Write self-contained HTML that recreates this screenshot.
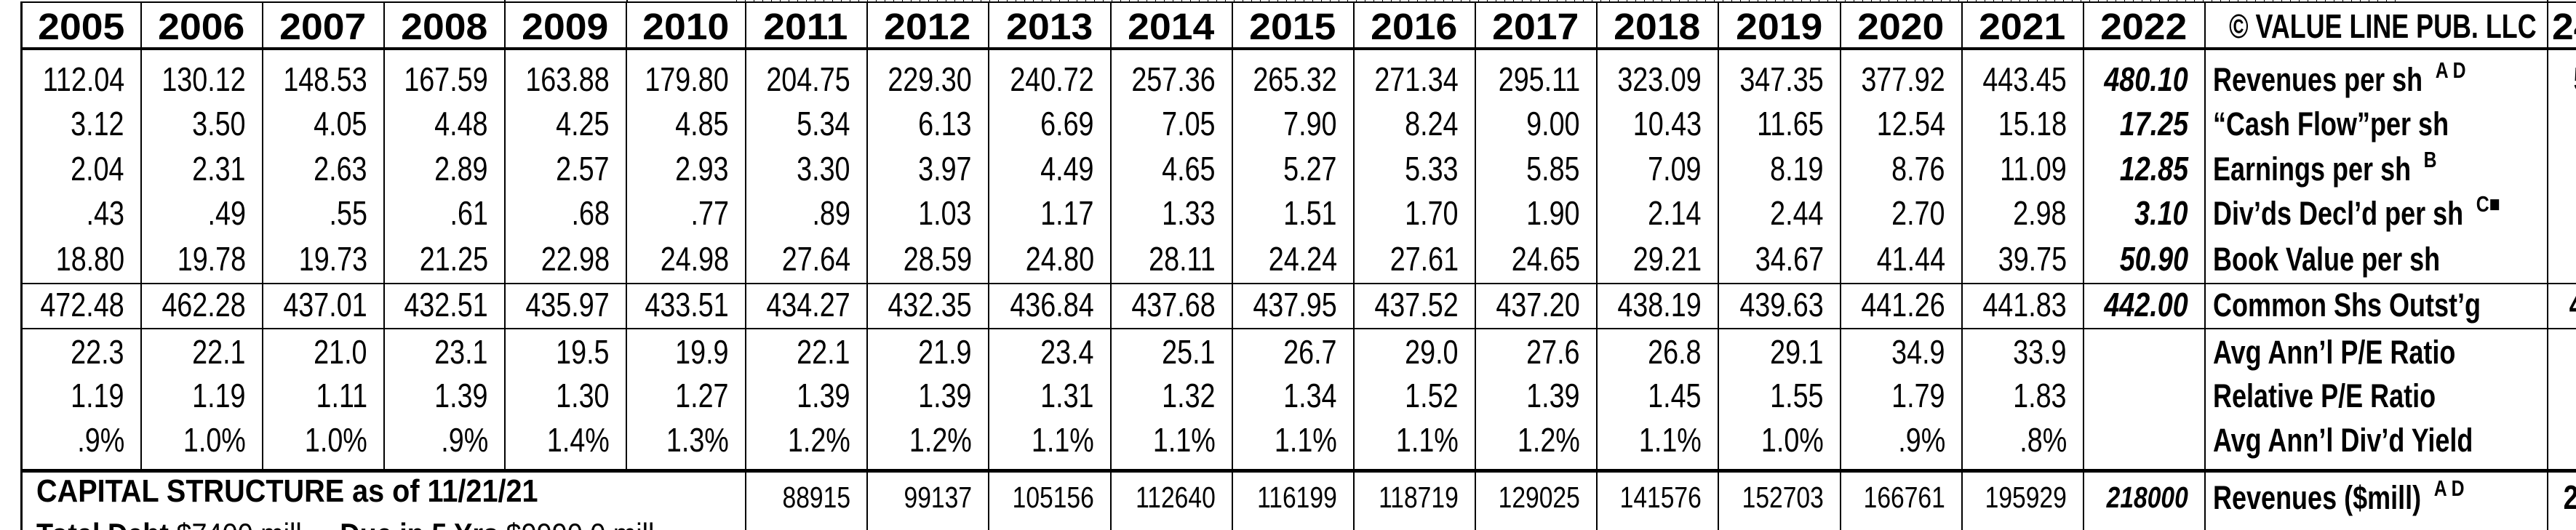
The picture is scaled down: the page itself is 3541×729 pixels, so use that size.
<!DOCTYPE html>
<html><head><meta charset="utf-8">
<style>
html,body{margin:0;padding:0;background:#fff;}
#root{position:relative;width:3541px;height:729px;overflow:hidden;background:#fff;font-family:"Liberation Sans",Arial,sans-serif;color:#000;}
.ln{position:absolute;background:#000;}
.t{position:absolute;white-space:nowrap;line-height:1;}
.num{font-size:46px;transform:scaleX(0.82);transform-origin:right center;}
.hdr{font-size:51px;font-weight:bold;transform:scaleX(1.05);transform-origin:center center;}
.lbl{font-size:45px;font-weight:bold;transform:scaleX(0.8);transform-origin:left center;}
.sup{font-size:31px;vertical-align:top;position:relative;top:-6px;margin-left:22px;}
</style></head>
<body>
<div id="root"></div>
<script>
const years=["2005","2006","2007","2008","2009","2010","2011","2012","2013","2014","2015","2016","2017","2018","2019","2020","2021","2022"];
const revPerSh=["112.04","130.12","148.53","167.59","163.88","179.80","204.75","229.30","240.72","257.36","265.32","271.34","295.11","323.09","347.35","377.92","443.45","480.10"];
const cashFlow=["3.12","3.50","4.05","4.48","4.25","4.85","5.34","6.13","6.69","7.05","7.90","8.24","9.00","10.43","11.65","12.54","15.18","17.25"];
const earnings=["2.04","2.31","2.63","2.89","2.57","2.93","3.30","3.97","4.49","4.65","5.27","5.33","5.85","7.09","8.19","8.76","11.09","12.85"];
const divs=[".43",".49",".55",".61",".68",".77",".89","1.03","1.17","1.33","1.51","1.70","1.90","2.14","2.44","2.70","2.98","3.10"];
const bookVal=["18.80","19.78","19.73","21.25","22.98","24.98","27.64","28.59","24.80","28.11","24.24","27.61","24.65","29.21","34.67","41.44","39.75","50.90"];
const shares=["472.48","462.28","437.01","432.51","435.97","433.51","434.27","432.35","436.84","437.68","437.95","437.52","437.20","438.19","439.63","441.26","441.83","442.00"];
const peRatio=["22.3","22.1","21.0","23.1","19.5","19.9","22.1","21.9","23.4","25.1","26.7","29.0","27.6","26.8","29.1","34.9","33.9",""];
const relPE=["1.19","1.19","1.11","1.39","1.30","1.27","1.39","1.39","1.31","1.32","1.34","1.52","1.39","1.45","1.55","1.79","1.83",""];
const divYield=[".9%","1.0%","1.0%",".9%","1.4%","1.3%","1.2%","1.2%","1.1%","1.1%","1.1%","1.1%","1.2%","1.1%","1.0%",".9%",".8%",""];
const revMill=["","","","","","","88915","99137","105156","112640","116199","118719","129025","141576","152703","166761","195929","218000"];
const rows=[revPerSh,cashFlow,earnings,divs,bookVal,shares,peRatio,relPE,divYield,revMill];
const rowNames=["revenues-per-sh","cash-flow-per-sh","earnings-per-sh","dividends-per-sh","book-value-per-sh","common-shares","avg-pe-ratio","relative-pe-ratio","avg-div-yield","revenues-mill"];
const labels=[["Revenues per sh","A D"],["“Cash Flow”per sh",""],["Earnings per sh","B"],["Div’ds Decl’d per sh","C■"],["Book Value per sh",""],["Common Shs Outst’g",""],["Avg Ann’l P/E Ratio",""],["Relative P/E Ratio",""],["Avg Ann’l Div’d Yield",""],["Revenues ($mill)","A D"]];
const rowY=[109,170,232,293,356,419,484,544,605,684];

const root=document.getElementById('root');
const colX=[29,193,360,527,693,860,1024];
for(let i=1;i<=12;i++)colX.push(Math.round(1024+i*167.17));
function line(x,y,w,h,name){const d=document.createElement('div');d.className='ln';d.style.left=x+'px';d.style.top=y+'px';d.style.width=w+'px';d.style.height=h+'px';


root.appendChild(d);}
function text(cls,txt,x,yc,align,name,extra){const d=document.createElement('div');d.className='t '+cls;d.textContent=txt;


if(extra)Object.assign(d.style,extra);
root.appendChild(d);
const h=d.offsetHeight;d.style.top=(yc-h/2)+'px';
if(align==='right'){d.style.right=(3541-x)+'px';}
else if(align==='center'){d.style.left=(x-d.offsetWidth/2)+'px';}
else d.style.left=x+'px';
return d;}

line(29,2,3512,2,'top-rule');
line(29,65,3512,4,'header-rule');
line(29,389,3512,2,'rule-shares-top');
line(29,451,3512,2,'rule-shares-bottom');
line(29,645,3512,5,'rule-capital');
line(28,2,3,727,'left-border');
for(let i=1;i<colX.length;i++){
  if(i<6){line(colX[i],2,2,645,'column-divider');}
  else line(colX[i],2,2,727,'column-divider');
}
line(3501,0,2,729,'label-column-right-border');
line(693,0,2,4,'top-tick');line(861,0,2,4,'top-tick');
for(let x=1012;x<3300;x+=12){line(x,0,1,3,'chart-tick');}

for(let i=0;i<years.length;i++){
  text('hdr',years[i],(colX[i]+colX[i+1])/2,36,'center','year-header-'+years[i]);
}
text('hdr','© VALUE LINE PUB. LLC',3487,36,'right','copyright-header',{fontSize:'46px',fontWeight:'bold',transform:'scaleX(0.78)',transformOrigin:'right center'});
text('hdr','24',3508,36,'left','next-header',{transformOrigin:'left center'});

for(let r=0;r<rows.length;r++){
  for(let i=0;i<years.length;i++){
    const v=rows[r][i]; if(!v)continue;
    const st={};
    if(i===17){st.fontWeight='bold';st.fontStyle='italic';}
    if(r===9){st.fontSize='41px';}
    text('num',v,colX[i+1]-22,rowY[r],'right',rowNames[r]+'-'+years[i],st);
  }
  const l=labels[r];
  const d=text('lbl',l[0],3042,rowY[r],'left','label-'+rowNames[r]);
  if(l[1]){const s=document.createElement('span');s.className='sup';s.textContent=l[1];d.appendChild(s);}
}
text('num','5',3541+18,rowY[0],'right','next-col-value',{fontWeight:'bold'});
text('num','4',3541+12,rowY[5],'right','next-col-value',{fontWeight:'bold'});
text('num','2',3541+4,rowY[9],'right','next-col-value',{fontWeight:'bold'});

text('lbl','CAPITAL STRUCTURE as of 11/21/21',50,676,'left','capital-structure-title',{fontSize:'44px',transform:'scaleX(0.9)'});
const tdt=text('lbl','',50,735,'left','total-debt-line',{fontSize:'42px',transform:'scaleX(0.9)'});
tdt.innerHTML='Total Debt <span style="font-weight:normal">$7400 mill.</span>&nbsp;&nbsp;&nbsp; Due in 5 Yrs <span style="font-weight:normal">$9990.0 mill.</span>';
tdt.style.top='714px';
</script>
</body></html>
